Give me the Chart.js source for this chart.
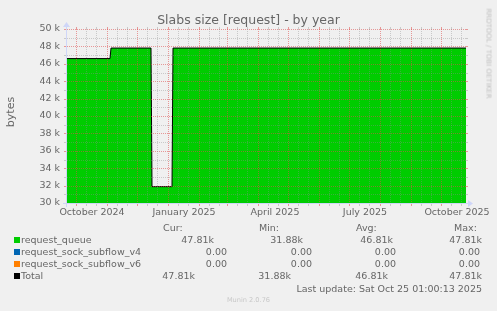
<!DOCTYPE html>
<html>
<head>
<meta charset="utf-8">
<script src="https://cdn.jsdelivr.net/npm/chart.js@4"></script>
<style>
  html, body { margin: 0; padding: 0; background: #f0f0f0; }
  #wrap { position: relative; width: 497px; height: 311px; overflow: hidden; font-family: "DejaVu Sans", sans-serif; color: #666; }
  #wrap canvas { position: absolute; left: 0; top: 0; }
  .t { position: absolute; font-size: 9.5px; line-height: normal; white-space: nowrap; }
  .sq { position: absolute; width: 6px; height: 6px; }
  #title { position: absolute; left: 0; top: 12px; width: 497px; text-align: center; font-size: 12.5px; white-space: nowrap; }
  #ylab { position: absolute; left: -19px; top: 105px; width: 60px; height: 14px; line-height: 14px; text-align: center; font-size: 11px; transform: rotate(-90deg); }
  #mark { position: absolute; left: 438px; top: 49px; width: 100px; height: 9px; line-height: 9px; text-align: center; font-size: 7px; color: #c0c0c0; transform: rotate(90deg); white-space: nowrap; }
  #munin { position: absolute; left: 0; width: 497px; top: 296px; text-align: center; font-size: 6.6px; color: #c8c8c8; }
</style>
</head>
<body>
<div id="wrap">
  <canvas id="c" width="497" height="311"></canvas>
  <div id="title">Slabs size [request] - by year</div>
  <div id="ylab">bytes</div>
  <div id="mark">RRDTOOL / TOBI OETIKER</div>
  <div id="munin">Munin 2.0.76</div>
</div>
<script>
// days counted from 2024-09-22 (left edge of the graph)
const dayPoints = [0, 43, 44, 84, 85, 105, 106, 399];
const queueValues = [46600, 46600, 47810, 47810, 31880, 31880, 47810, 47810];
const v4Values = [0, 0, 0, 0, 0, 0, 0, 0];
const v6Values = [0, 0, 0, 0, 0, 0, 0, 0];
const totalValues = [46600, 46600, 47810, 47810, 31880, 31880, 47810, 47810];

const tickLabels = ['October 2024', 'January 2025', 'April 2025', 'July 2025', 'October 2025'];
const tickDays = [25, 117, 208, 298, 390];
const monthStartDays = [9, 40, 70, 101, 132, 160, 191, 221, 252, 282, 313, 344, 374];

const seriesNames = ['request_queue', 'request_sock_subflow_v4', 'request_sock_subflow_v6', 'Total'];
const seriesColors = ['#00cc00', '#0066b3', '#ff8000', '#000000'];
const curVals = ['47.81k', '0.00', '0.00', '47.81k'];
const minVals = ['31.88k', '0.00', '0.00', '31.88k'];
const avgVals = ['46.81k', '0.00', '0.00', '46.81k'];
const maxVals = ['47.81k', '0.00', '0.00', '47.81k'];

const pts = vals => dayPoints.map((d, i) => ({x: d, y: vals[i]}));

// rrdtool style grid, axis ticks and arrows
const rrdGrid = {
  id: 'rrdGrid',
  afterDatasetsDraw(chart) {
    const {ctx, chartArea: a, scales: {x, y}} = chart;
    const minorCol = 'rgba(143,143,143,0.4)';
    const majorCol = 'rgba(222,79,79,0.55)';
    ctx.save();
    ctx.lineWidth = 1;
    const hline = (v, col) => {
      const py = Math.round(y.getPixelForValue(v)) + 0.5;
      ctx.strokeStyle = col;
      ctx.setLineDash([1, 1]);
      ctx.beginPath(); ctx.moveTo(a.left, py); ctx.lineTo(a.right, py); ctx.stroke();
      ctx.setLineDash([]);
      ctx.beginPath();
      ctx.moveTo(a.left - 3, py); ctx.lineTo(a.left, py);
      ctx.moveTo(a.right, py); ctx.lineTo(a.right + 2, py);
      ctx.stroke();
    };
    const vline = (d, col) => {
      const px = Math.round(x.getPixelForValue(d)) + 0.5;
      ctx.strokeStyle = col;
      ctx.setLineDash([1, 1]);
      ctx.beginPath(); ctx.moveTo(px, a.top); ctx.lineTo(px, a.bottom); ctx.stroke();
      ctx.setLineDash([]);
      ctx.beginPath();
      ctx.moveTo(px, a.top - 2); ctx.lineTo(px, a.top);
      ctx.moveTo(px, a.bottom); ctx.lineTo(px, a.bottom + 3);
      ctx.stroke();
    };
    for (let v = 31000; v < 50000; v += 2000) hline(v, minorCol);
    for (let v = 32000; v <= 50000; v += 2000) hline(v, majorCol);
    monthStartDays.forEach(m => {
      [10, 20].forEach(o => { if (m + o < 399) vline(m + o, minorCol); });
    });
    monthStartDays.forEach(m => vline(m, majorCol));

    // axes and arrows
    const x0 = a.left - 0.5, y0 = a.bottom + 0.5;
    ctx.strokeStyle = '#cfd6f8';
    ctx.fillStyle = '#cfd6f8';
    ctx.beginPath();
    ctx.moveTo(a.left - 4, y0); ctx.lineTo(a.right + 4, y0);
    ctx.moveTo(x0, a.bottom + 4); ctx.lineTo(x0, a.top - 4);
    ctx.stroke();
    ctx.beginPath();
    ctx.moveTo(a.right + 2, y0 - 3.5); ctx.lineTo(a.right + 2, y0 + 3.5); ctx.lineTo(a.right + 7, y0); ctx.closePath(); ctx.fill();
    ctx.beginPath();
    ctx.moveTo(x0 - 3.5, a.top - 2); ctx.lineTo(x0 + 3.5, a.top - 2); ctx.lineTo(x0, a.top - 7); ctx.closePath(); ctx.fill();
    ctx.restore();
  }
};

const tickFont = {family: 'DejaVu Sans', size: 9.5};

new Chart(document.getElementById('c'), {
  type: 'line',
  data: {
    datasets: [
      {label: 'Total', data: pts(totalValues), borderColor: '#000000', borderWidth: 1, pointRadius: 0, fill: false, order: 0},
      {label: 'request_sock_subflow_v6', data: pts(v6Values), borderColor: '#ff8000', borderWidth: 1, pointRadius: 0, fill: false, order: 1},
      {label: 'request_sock_subflow_v4', data: pts(v4Values), borderColor: '#0066b3', borderWidth: 1, pointRadius: 0, fill: false, order: 2},
      {label: 'request_queue', data: pts(queueValues), borderWidth: 0, borderColor: 'rgba(0,0,0,0)', backgroundColor: '#00cc00', pointRadius: 0, fill: 'start', order: 3}
    ]
  },
  options: {
    responsive: false,
    animation: false,
    devicePixelRatio: 1,
    layout: {padding: {left: 0, right: 31, top: 29, bottom: 88}},
    plugins: {legend: {display: false}, tooltip: {enabled: false}},
    scales: {
      x: {
        type: 'linear', min: 0, max: 399,
        grid: {display: false, drawTicks: false},
        border: {display: false},
        ticks: {autoSkip: false, maxRotation: 0, padding: 4, color: '#666', font: tickFont,
          callback: (v, i) => tickLabels[i]},
        afterBuildTicks: s => { s.ticks = tickDays.map(d => ({value: d})); },
        afterFit: s => { s.height = 20; }
      },
      y: {
        min: 30000, max: 50000,
        grid: {display: false, drawTicks: false},
        border: {display: false},
        ticks: {stepSize: 2000, padding: 7, color: '#666', font: tickFont,
          callback: v => (v / 1000) + ' k'},
        afterFit: s => { s.width = 67; }
      }
    }
  },
  plugins: [rrdGrid]
});

// legend table below the graph
const wrap = document.getElementById('wrap');
function addText(txt, left, top, right, col) {
  const el = document.createElement('div');
  el.className = 't';
  el.textContent = txt;
  el.style.top = top + 'px';
  if (right !== null) el.style.right = (497 - right) + 'px';
  else el.style.left = left + 'px';
  if (col) el.style.color = col;
  wrap.appendChild(el);
}
const headLeft = [163, 259, 356, 454];
['Cur:', 'Min:', 'Avg:', 'Max:'].forEach((h, i) => addText(h, headLeft[i], 222, null));
const rowTops = [234, 246, 258, 270];
const rowRights = [[214, 303, 393, 482], [227, 312, 396, 480], [227, 312, 396, 480], [195, 291, 388, 482]];
seriesNames.forEach((n, r) => {
  const sq = document.createElement('div');
  sq.className = 'sq';
  sq.style.left = '14px';
  sq.style.top = (rowTops[r] + 3) + 'px';
  sq.style.background = seriesColors[r];
  wrap.appendChild(sq);
  addText(n, 21, rowTops[r], null);
  [curVals, minVals, avgVals, maxVals].forEach((col, c) => addText(col[r], 0, rowTops[r], rowRights[r][c]));
});
addText('Last update: Sat Oct 25 01:00:13 2025', 0, 283, 482);
</script>
</body>
</html>
